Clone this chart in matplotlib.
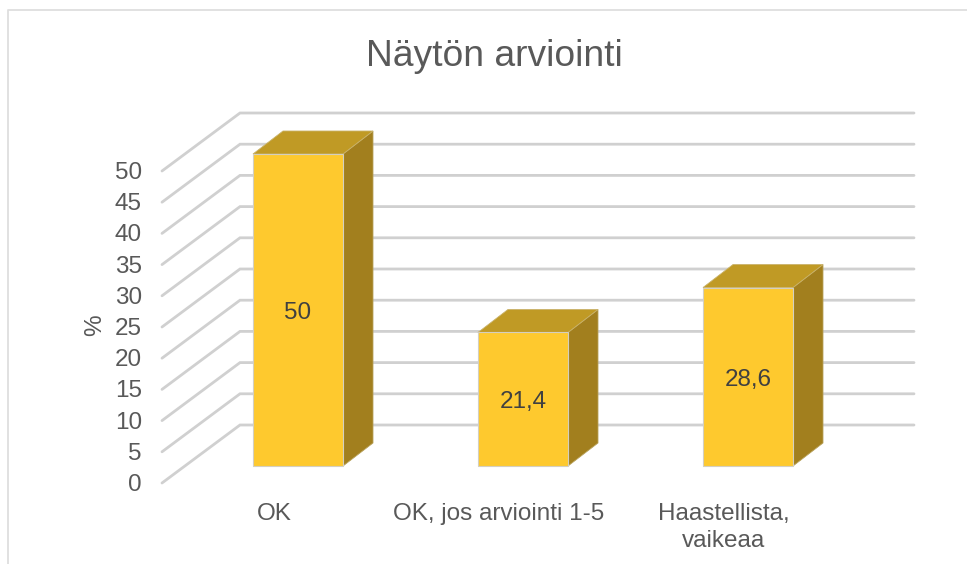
import matplotlib
matplotlib.use('Agg')
import matplotlib.pyplot as plt
from matplotlib.patches import Polygon, Rectangle

categories = ['OK', 'OK, jos arviointi 1-5', 'Haastellista,\nvaikeaa']
values = [50, 21.4, 28.6]
value_labels = ['50', '21,4', '28,6']
ticks = [0, 5, 10, 15, 20, 25, 30, 35, 40, 45, 50]

W, H = 967, 564
PX_Y = 6.24      # pixels per unit of value
PX_X = 225.0     # pixels between categories
TEXT = '#595959'
FS = 17.5

plt.rcParams['font.family'] = ['Liberation Sans', 'DejaVu Sans']

def dx(px):
    return px / PX_X

def dy(px):
    return px / PX_Y

def bar3d(ax, x, v):
    w = dx(45); ox = dx(30); oy = dy(23)
    ax.add_patch(Polygon([(x+w, 0), (x+w+ox, oy), (x+w+ox, v+oy), (x+w, v)],
                         fc='#A27F1E', ec='#b8a25c', lw=0.6, zorder=3))
    ax.add_patch(Polygon([(x-w, v), (x-w+ox, v+oy), (x+w+ox, v+oy), (x+w, v)],
                         fc='#C09A25', ec='#c9b26a', lw=0.6, zorder=3))
    ax.add_patch(Rectangle((x-w, 0), 2*w, v, fc='#FEC92E', ec='#d4cfc0', lw=0.8, zorder=4))

def run():
    fig = plt.figure(figsize=(W/100, H/100), dpi=100)
    ax = fig.add_axes([0, 0, 1, 1])
    ax.set_xlim(-298/PX_X, (W-298)/PX_X)
    ax.set_ylim(-(H-466)/PX_Y, 466/PX_Y)
    ax.axis('off')

    # chart frame, open on the right
    x0 = -298/PX_X
    y1 = 466/PX_Y
    ax.plot([x0+dx(8), x0+dx(8), x0+dx(W)],
            [-(H-466)/PX_Y, y1-dy(10), y1-dy(10)],
            color='#dedede', lw=1.3, zorder=1)

    # gridlines: side wall then back wall
    xf = x0 + dx(162); xb = x0 + dx(240); xe = x0 + dx(914)
    for t in ticks:
        ax.plot([xf, xb, xe], [t-dy(17), t+dy(41), t+dy(41)],
                color='#d0d0d0', lw=2.0, solid_joinstyle='miter',
                solid_capstyle='round', zorder=2)
        ax.text(x0+dx(142), t-dy(19), str(t), ha='right', va='center',
                fontsize=FS, color=TEXT)

    for i, (v, lab) in enumerate(zip(values, value_labels)):
        bar3d(ax, i, v)
        ax.text(i, v/2-dy(3), lab, ha='center', va='center', fontsize=FS, color='#404040', zorder=5)

    for i, c in enumerate(categories):
        ax.text(i-dx(24), -dy(37), c, ha='center', va='top', fontsize=FS,
                color=TEXT, linespacing=1.3)

    ax.text(x0+dx(95), y1-dy(325), '%', rotation=90, ha='center', va='center',
            fontsize=FS, color=TEXT)
    ax.text(x0+dx(494), y1-dy(57), 'Näytön arviointi', ha='center', va='center',
            fontsize=26.8, color=TEXT)
    fig.savefig('out.png', dpi=100)

if __name__=='__main__':
    run()
